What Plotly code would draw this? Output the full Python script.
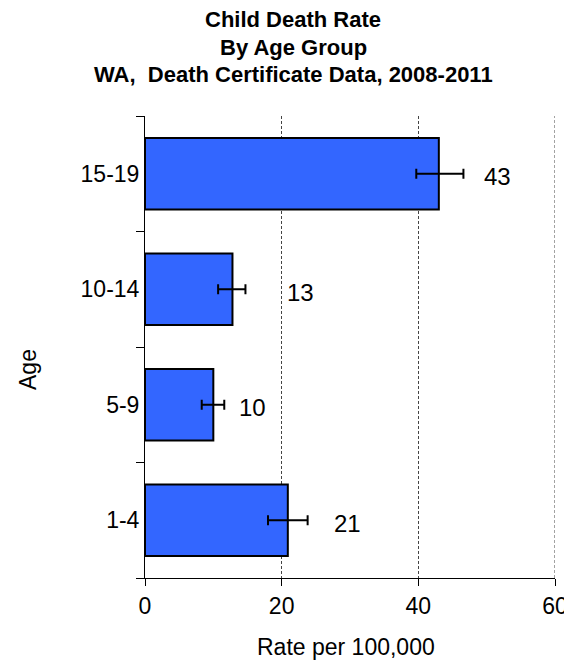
import plotly.graph_objects as go

ages = ["1-4", "5-9", "10-14", "15-19"]
rates = [20.9, 10.0, 12.8, 43.0]
err_plus = [2.9, 1.6, 1.9, 3.6]
err_minus = [2.9, 1.7, 2.1, 3.3]
labels = ["21", "10", "13", "43"]
x_ticks = [0, 20, 40, 60]
title_lines = ["Child Death Rate", "By Age Group", "WA,  Death Certificate Data, 2008-2011"]

# label offsets beyond bar end (style)
label_offsets = [8.7, 5.7, 9.9, 8.6]
FONT = "Liberation Sans, Arial"
GRID_DASH = "3px,2px"
GRID_COLOR = "#444444"

# page coordinates of plot area (target picture pixels)
PL, PR, PT, PB = 145, 555, 116, 578
PW, PH = PR - PL, PB - PT

fig = go.Figure()
fig.add_trace(go.Bar(
    y=ages, x=rates, orientation="h",
    marker=dict(color="#3366FF", line=dict(color="black", width=2)),
    width=0.62,
    error_x=dict(type="data", symmetric=False, array=err_plus, arrayminus=err_minus,
                 color="black", thickness=2, width=5),
    hoverinfo="skip",
))

for a, r, lab, off in zip(ages, rates, labels, label_offsets):
    fig.add_annotation(x=r + off, y=a, text=lab, showarrow=False,
                       font=dict(family=FONT, size=24, color="black"),
                       xanchor="center", yanchor="middle", yshift=-3)

for i, line in enumerate(title_lines):
    py = 20 + 27 * i
    fig.add_annotation(x=(293 - PL) / PW, xref="paper", y=(PB - py) / PH,
                       yref="paper", text="<b>" + line + "</b>", showarrow=False,
                       xanchor="center", yanchor="middle",
                       font=dict(family=FONT, size=22, color="black"))

fig.add_annotation(x=(346 - PL) / PW, xref="paper", y=(PB - 647) / PH, yref="paper",
                   text="Rate per 100,000", showarrow=False, xanchor="center", yanchor="middle",
                   font=dict(family=FONT, size=23, color="black"))
fig.add_annotation(x=(28 - PL) / PW, xref="paper", y=(PB - 370) / PH, yref="paper",
                   text="Age", showarrow=False, textangle=-90, xanchor="center", yanchor="middle",
                   font=dict(family=FONT, size=23, color="black"))

# gridline at the right edge of the range (plotly omits edge gridlines)
fig.add_shape(type="line", xref="x", yref="paper", x0=x_ticks[-1], x1=x_ticks[-1], y0=0, y1=1,
              line=dict(color=GRID_COLOR, width=1, dash=GRID_DASH), layer="below")

# page body has an 8px margin: figure is offset by 8px
OFF = 8
W, H = 572 - OFF, 660 - OFF
fig.update_layout(
    width=W, height=H,
    margin=dict(l=PL - OFF, r=W - (PR - OFF), t=PT - OFF, b=H - (PB - OFF), autoexpand=False),
    paper_bgcolor="white", plot_bgcolor="white",
    showlegend=False,
    font=dict(family=FONT, color="black"),
    xaxis=dict(
        range=[0, 60], tickvals=x_ticks, ticktext=[str(t) for t in x_ticks],
        showgrid=True, gridcolor=GRID_COLOR, griddash=GRID_DASH, gridwidth=1,
        zeroline=False, showline=True, linecolor="black", linewidth=1,
        ticks="outside", ticklen=7, tickcolor="black", automargin=False,
        tickfont=dict(size=23), ticklabeloverflow="allow",
    ),
    yaxis=dict(
        categoryorder="array", categoryarray=ages, automargin=False,
        showline=True, linecolor="black", linewidth=1,
        ticks="outside", tickson="boundaries", ticklen=8, tickcolor="black",
        tickfont=dict(size=23), showgrid=False,
    ),
)

fig.write_html("out.html")
